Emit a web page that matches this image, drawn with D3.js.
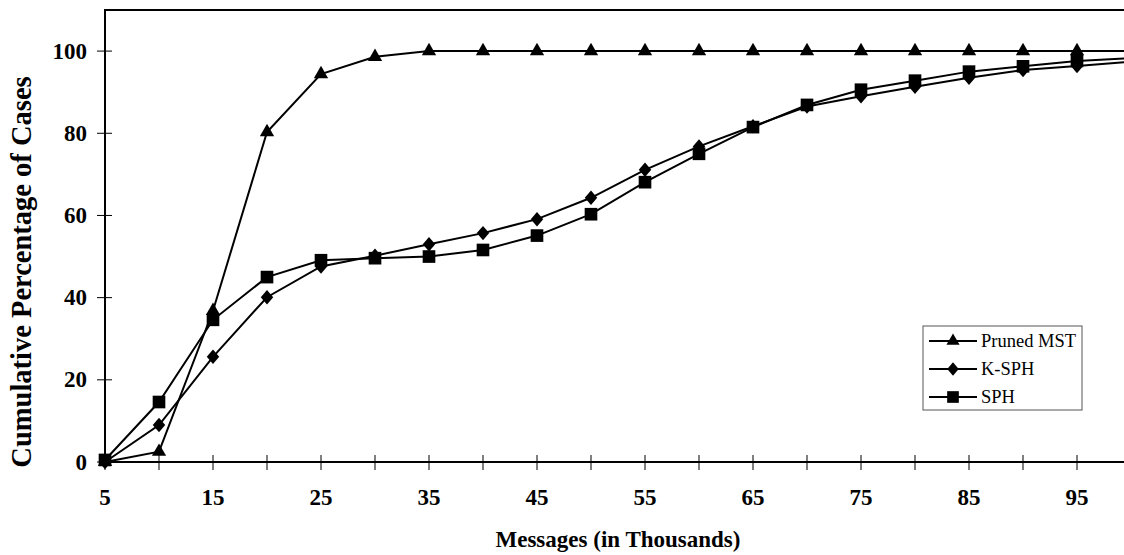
<!DOCTYPE html>
<html>
<head>
<meta charset="utf-8">
<script src="https://cdn.jsdelivr.net/npm/d3@7"></script>
<style>
  html, body { margin: 0; padding: 0; background: #fff; }
  svg { display: block; font-family: "Liberation Serif", "Times New Roman", serif; }
</style>
</head>
<body>
<div id="chart"></div>
<script>
// messages (thousands)
const messages = [5, 10, 15, 20, 25, 30, 35, 40, 45, 50, 55, 60, 65, 70, 75, 80, 85, 90, 95, 100];

const prunedMST = [0, 2.5, 36.8, 80.3, 94.4, 98.6, 100, 100, 100, 100, 100, 100, 100, 100, 100, 100, 100, 100, 100, 100];
const kSPH = [0, 9.0, 25.6, 40.1, 47.6, 50.2, 53.0, 55.7, 59.1, 64.3, 71.1, 76.8, 81.7, 86.5, 89.0, 91.3, 93.5, 95.4, 96.4, 97.4];
const sph = [0.5, 14.6, 34.6, 45.0, 49.1, 49.6, 50.0, 51.6, 55.1, 60.3, 68.1, 75.0, 81.5, 86.9, 90.6, 92.8, 95.0, 96.3, 97.6, 98.3];

const seriesNames = ['Pruned MST', 'K-SPH', 'SPH'];
const xTickValues = d3.range(5, 100, 5);
const yTickValues = [0, 20, 40, 60, 80, 100];

// wider diamond than d3.symbolDiamond (closer to the Excel marker)
const wideDiamond = {
    draw(context, size) {
        const h = Math.sqrt(size / 2) * 1.08, w = h * 0.86;
        context.moveTo(0, -h);
        context.lineTo(w, 0);
        context.lineTo(0, h);
        context.lineTo(-w, 0);
        context.closePath();
    }
};
const seriesSymbols = [d3.symbolTriangle, wideDiamond, d3.symbolSquare];
const symbolSizes = [88, 90, 160];

const width = 1124, height = 555;
const plotLeft = 105, plotTop = 10, plotRight = 1131, plotBottom = 462;

const svg = d3.select('#chart').append('svg')
    .attr('width', width)
    .attr('height', height);

const x = d3.scaleLinear().domain([5, 100]).range([plotLeft, plotRight]);
const y = d3.scaleLinear().domain([0, 110]).range([plotBottom, plotTop]);

// plot frame
svg.append('rect')
    .attr('x', plotLeft).attr('y', plotTop)
    .attr('width', plotRight - plotLeft).attr('height', plotBottom - plotTop)
    .attr('fill', 'none').attr('stroke', '#000').attr('stroke-width', 2);

// x axis ticks (cross the axis)
svg.append('g').selectAll('line')
    .data(xTickValues)
    .join('line')
    .attr('x1', d => x(d)).attr('x2', d => x(d))
    .attr('y1', plotBottom - 7).attr('y2', plotBottom + 8)
    .attr('stroke', '#000').attr('stroke-width', 1);

svg.append('g').selectAll('text')
    .data(xTickValues.filter(d => d % 10 === 5))
    .join('text')
    .attr('x', d => x(d))
    .attr('y', 505)
    .attr('text-anchor', 'middle')
    .attr('font-size', 23).attr('font-weight', 'bold')
    .text(d => d);

// y axis ticks
svg.append('g').selectAll('line')
    .data(yTickValues)
    .join('line')
    .attr('x1', plotLeft - 8).attr('x2', plotLeft + 7)
    .attr('y1', d => y(d)).attr('y2', d => y(d))
    .attr('stroke', '#000').attr('stroke-width', 1);

svg.append('g').selectAll('text')
    .data(yTickValues)
    .join('text')
    .attr('x', 87)
    .attr('y', d => y(d))
    .attr('dy', '0.33em')
    .attr('text-anchor', 'end')
    .attr('font-size', 23).attr('font-weight', 'bold')
    .text(d => d);

// axis titles
svg.append('text')
    .attr('x', (plotLeft + plotRight) / 2).attr('y', 547)
    .attr('text-anchor', 'middle')
    .attr('font-size', 23).attr('font-weight', 'bold')
    .text('Messages (in Thousands)');

svg.append('text')
    .attr('transform', 'translate(31,272) rotate(-90)')
    .attr('text-anchor', 'middle')
    .attr('font-size', 28.5).attr('font-weight', 'bold')
    .text('Cumulative Percentage of Cases');

// series
const allSeries = [prunedMST, kSPH, sph];
const line = d3.line()
    .x((d, i) => x(messages[i]))
    .y(d => y(d));

allSeries.forEach((vals, s) => {
    svg.append('path')
        .datum(vals)
        .attr('fill', 'none')
        .attr('stroke', '#000')
        .attr('stroke-width', 2)
        .attr('d', line);

    svg.append('g').selectAll('path')
        .data(vals)
        .join('path')
        .attr('transform', (d, i) => `translate(${x(messages[i])},${y(d)})`)
        .attr('d', d3.symbol().type(seriesSymbols[s]).size(symbolSizes[s]))
        .attr('fill', '#000');
});

// legend
const legend = svg.append('g');
legend.append('rect')
    .attr('x', 923).attr('y', 326)
    .attr('width', 159).attr('height', 84)
    .attr('fill', '#fff').attr('stroke', '#555').attr('stroke-width', 1);

seriesNames.forEach((name, s) => {
    const ry = 341 + s * 28;
    legend.append('line')
        .attr('x1', 929).attr('x2', 977)
        .attr('y1', ry).attr('y2', ry)
        .attr('stroke', '#000').attr('stroke-width', 2);
    legend.append('path')
        .attr('transform', `translate(953,${ry})`)
        .attr('d', d3.symbol().type(seriesSymbols[s]).size(symbolSizes[s] * 0.85))
        .attr('fill', '#000');
    legend.append('text')
        .attr('x', 981).attr('y', ry)
        .attr('dy', '0.33em')
        .attr('font-size', 18.5)
        .text(name);
});
</script>
</body>
</html>
